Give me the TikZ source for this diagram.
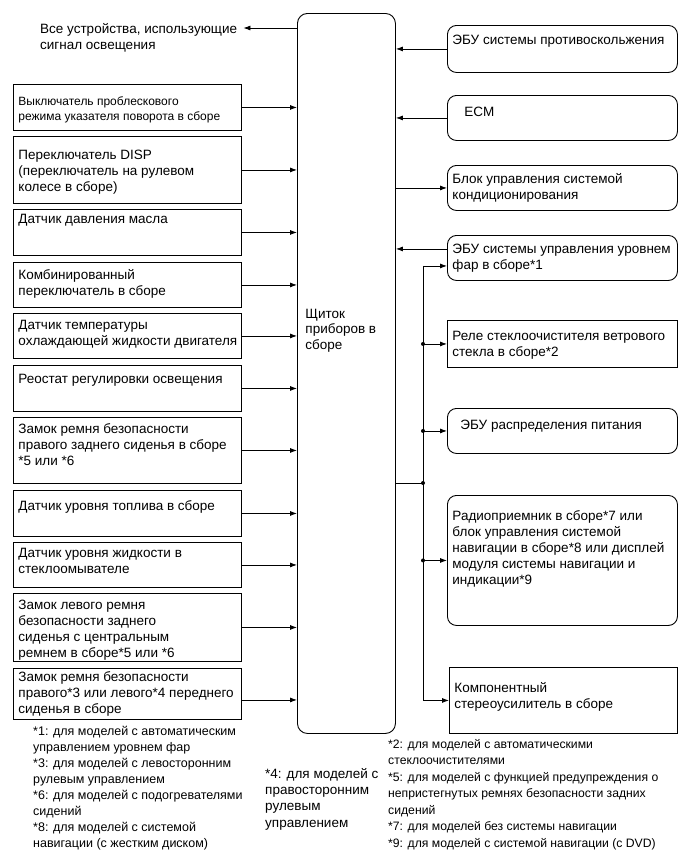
\documentclass[tikz,border=0pt]{standalone}
\usepackage{fontspec}
\setmainfont{Liberation Sans}
\usetikzlibrary{arrows.meta}
\newcommand{\btxt}[4]{\parbox[c][#1pt][t]{#2pt}{\rule{0pt}{#3pt}\makebox[0pt][l]{\begin{tabular}[t]{@{}l@{}}#4\end{tabular}}}}

\begin{document}
\begin{tikzpicture}[x=1pt,y=-1pt,
  blk/.style={draw,line width=0.9pt,anchor=north west,inner xsep=5pt,inner ysep=0pt,font=\fontsize{13.5}{16}\selectfont},
  ecu/.style={blk,rounded corners=9pt},
  fnote/.style={anchor=north west,inner sep=0pt,font=\fontsize{12.5}{16.2}\selectfont},
  sig/.style={-{Latex[length=7pt,width=5pt]},line width=0.8pt}]
  \useasboundingbox (0,0) rectangle (691,855);

  \node[ecu,rounded corners=10pt,inner xsep=8pt,font=\fontsize{13.5}{15.5}\selectfont] (cl) at (297,13) {\btxt{720}{82}{305}{Щиток\\приборов в\\сборе}};
  \node[fnote,font=\fontsize{13.5}{16}\selectfont] (lt) at (40,20) {\btxt{32}{203}{13}{Все устройства, использующие\\сигнал освещения}};

  \node[blk,font=\fontsize{12}{15}\selectfont] (l1) at (13,84) {\btxt{46}{218}{21}{Выключатель проблескового\\режима указателя поворота в сборе}};
  \node[blk] (l2) at (13,136) {\btxt{67}{218}{23}{Переключатель DISP\\(переключатель на рулевом\\колесе в сборе)}};
  \node[blk] (l3) at (13,209) {\btxt{46}{218}{14}{Датчик давления масла}};
  \node[blk] (l4) at (13,262) {\btxt{45}{218}{17}{Комбинированный\\переключатель в сборе}};
  \node[blk] (l5) at (13,313) {\btxt{45}{218}{16}{Датчик температуры\\охлаждающей жидкости двигателя}};
  \node[blk] (l6) at (13,365) {\btxt{46}{218}{18}{Реостат регулировки освещения}};
  \node[blk] (l7) at (13,417) {\btxt{66}{218}{16}{Замок ремня безопасности\\правого заднего сиденья в сборе\\{}*5 или *6}};
  \node[blk] (l8) at (13,490) {\btxt{46}{218}{20}{Датчик уровня топлива в сборе}};
  \node[blk] (l9) at (13,542) {\btxt{45}{218}{15}{Датчик уровня жидкости в\\стеклоомывателе}};
  \node[blk] (l10) at (13,593) {\btxt{68}{218}{16}{Замок левого ремня\\безопасности заднего\\сиденья с центральным\\ремнем в сборе*5 или *6}};
  \node[blk] (l11) at (13,668) {\btxt{51}{218}{13}{Замок ремня безопасности\\правого*3 или левого*4 переднего\\сиденья в сборе}};

  \node[ecu] (r1) at (447,25) {\btxt{47}{220}{19}{ЭБУ системы противоскольжения}};
  \node[ecu] (r2) at (447,95) {\btxt{45}{220}{21}{\hspace*{12pt}ECM}};
  \node[ecu] (r3) at (447,165) {\btxt{45}{220}{18}{Блок управления системой\\кондиционирования}};
  \node[ecu] (r4) at (447,235) {\btxt{45}{220}{18}{ЭБУ системы управления уровнем\\фар в сборе*1}};
  \node[blk] (r5) at (447,320) {\btxt{47}{220}{20}{Реле стеклоочистителя ветрового\\стекла в сборе*2}};
  \node[ecu] (r6) at (447,408) {\btxt{45}{220}{21}{\hspace*{8pt}ЭБУ распределения питания}};
  \node[ecu] (r7) at (447,495) {\btxt{130}{220}{25}{Радиоприемник в сборе*7 или\\блок управления системой\\навигации в сборе*8 или дисплей\\модуля системы навигации и\\индикации*9}};
  \node[blk] (r8) at (449,667) {\btxt{66}{218}{25}{Компонентный\\стереоусилитель в сборе}};

  \node[fnote,font=\fontsize{12.5}{16.1}\selectfont] (n1) at (33,723) {\btxt{130}{230}{12}{*1: для моделей с автоматическим\\управлением уровнем фар\\{}*3: для моделей с левосторонним\\рулевым управлением\\{}*6: для моделей с подогревателями\\сидений\\{}*8: для моделей с системой\\навигации (с жестким диском)}};
  \node[fnote,font=\fontsize{13.5}{16.3}\selectfont] (n2) at (265,766) {\btxt{80}{115}{12}{*4: для моделей с\\правосторонним\\рулевым\\управлением}};
  \node[fnote,font=\fontsize{12.2}{16.5}\selectfont] (n3) at (388,736) {\btxt{115}{295}{12}{*2: для моделей с автоматическими\\стеклоочистителями\\{}*5: для моделей с функцией предупреждения о\\непристегнутых ремнях безопасности задних\\сидений\\{}*7: для моделей без системы навигации\\{}*9: для моделей с системой навигации (с DVD)}};

  \draw[sig] (cl.west |- 0,28) -- (lt.east |- 0,28);
  \foreach \i in {1,...,10}
    \draw[sig] (l\i.east) -- (l\i.east -| cl.west);
  \draw[sig] ([yshift=-6pt]l11.east) -- ([yshift=-6pt]l11.east -| cl.west);

  \draw[sig] (r1.west) -- (r1.west -| cl.east);
  \draw[sig] (r2.west) -- (r2.west -| cl.east);
  \draw[sig] (r3.west -| cl.east) -- (r3.west);
  \coordinate (r4a) at ([yshift=9pt]r4.west);
  \coordinate (r4b) at ([yshift=-8pt]r4.west);
  \draw[sig] (r4a) -- (r4a -| cl.east);

  \coordinate (bus) at (423,483);
  \draw[line width=0.8pt] (cl.east |- bus) -- (bus);
  \draw[sig] (bus |- r4b) -- (r4b);
  \draw[sig] (bus |- r4b) -- (bus |- r8.west) -- (r8.west);
  \foreach \r in {r5,r6,r7} {
    \draw[sig] (bus |- \r.west) -- (\r.west);
    \fill (bus |- \r.west) circle (2pt);
  }
  \fill (bus) circle (2pt);
\end{tikzpicture}
\end{document}
